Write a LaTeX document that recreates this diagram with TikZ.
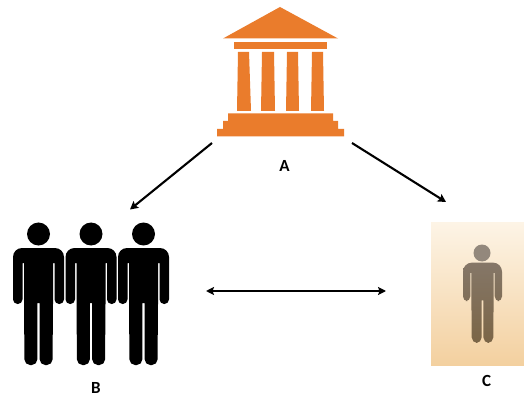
\documentclass[tikz,border=0pt]{standalone}
\usepackage{fontspec}
\setmainfont{Carlito}
\usetikzlibrary{arrows.meta}
\definecolor{bank}{HTML}{EA7C2C}
\definecolor{panelTop}{HTML}{FDF4E6}
\definecolor{panelBot}{HTML}{F3D09F}
\definecolor{figTop}{HTML}{857768}
\definecolor{figBot}{HTML}{7B6546}
\definecolor{figHead}{HTML}{93887C}
\newcommand{\figbody}{(-1.2,69) [rounded corners=5.5pt] -- (-1.2,131) -- (-14,131) [sharp corners] -- (-14.5,70) -- (-14.5,29) -- (-16,29) [rounded corners=4.6pt] -- (-16,70) -- (-25.5,70) [rounded corners=9pt] -- (-25.5,14) -- (25.5,14) [rounded corners=4.6pt] -- (25.5,70) -- (16,70) [sharp corners] -- (16,29) -- (14.5,29) -- (14.5,70) [rounded corners=5.5pt] -- (14,131) -- (1.2,131) [sharp corners] -- (1.2,69) -- cycle}
\tikzset{
  conn/.style={line width=2.1pt,black},
  tip/.style={-{Stealth[length=8pt,width=8.5pt,inset=1.5pt]}},
  tiptwo/.style={{Stealth[length=8pt,width=8pt,inset=1.5pt]}-{Stealth[length=8pt,width=8pt,inset=1.5pt]},line width=1.8pt},
  lbl/.style={font=\fontsize{17}{17}\selectfont\bfseries,text=black,inner sep=0pt},
  bankpart/.style={fill=bank,draw=none}
}
\begin{document}
\begin{tikzpicture}[x=1pt,y=-1pt]
\useasboundingbox (0,0) rectangle (524,395);
\fill[white] (0,0) rectangle (524,395);
% building
\fill[bankpart] (280,7) -- (338,38.5) -- (223,38.5) -- cycle;
\fill[bankpart] (234,42) rectangle (327,49);
\fill[bankpart] (238,52) -- (249,52) -- (251,111) -- (237,111) -- cycle;
\fill[bankpart] (262,52) -- (274,52) -- (275,111) -- (261,111) -- cycle;
\fill[bankpart] (287,52) -- (298,52) -- (299,111) -- (286,111) -- cycle;
\fill[bankpart] (312,52) -- (323,52) -- (324,111) -- (311,111) -- cycle;
\fill[bankpart] (228,113.5) -- (333,113.5) -- (333,121) -- (338,121) -- (338,129) -- (344,129) -- (344,136.5) -- (217,136.5) -- (217,129) -- (223,129) -- (223,121) -- (228,121) -- cycle;
% people
\foreach \cx in {38.5,91,143.5}{
  \begin{scope}[shift={(\cx,234)}]
    \fill[black] (0,0) circle[radius=11.5];
    \fill[black] \figbody;
  \end{scope}
}
% panel
\shade[top color=panelTop,bottom color=panelBot] (431,223) rectangle (524,365);
\fill[figHead] (482,253) circle[radius=8.5];
\begin{scope}[shift={(482.5,253)},xscale=.765,yscale=.687]
  \shade[top color=figTop,bottom color=figBot] \figbody;
\end{scope}
% labels
\node[lbl] (A) at (284.5,166) {A};
\node[lbl] (B) at (96,387.5) {B};
\node[lbl] (C) at (486.5,381) {C};
% connector ends
\coordinate (a1) at (212,143);
\coordinate (b1) at (130,209.5);
\coordinate (a2) at (352,143);
\coordinate (c1) at (446,202);
\coordinate (b2) at (206,291);
\coordinate (c2) at (386,291);
\draw[conn,tip] (a1) -- (b1);
\draw[conn,tip] (a2) -- (c1);
\draw[conn,tiptwo] (b2) -- (c2);
\end{tikzpicture}
\end{document}
